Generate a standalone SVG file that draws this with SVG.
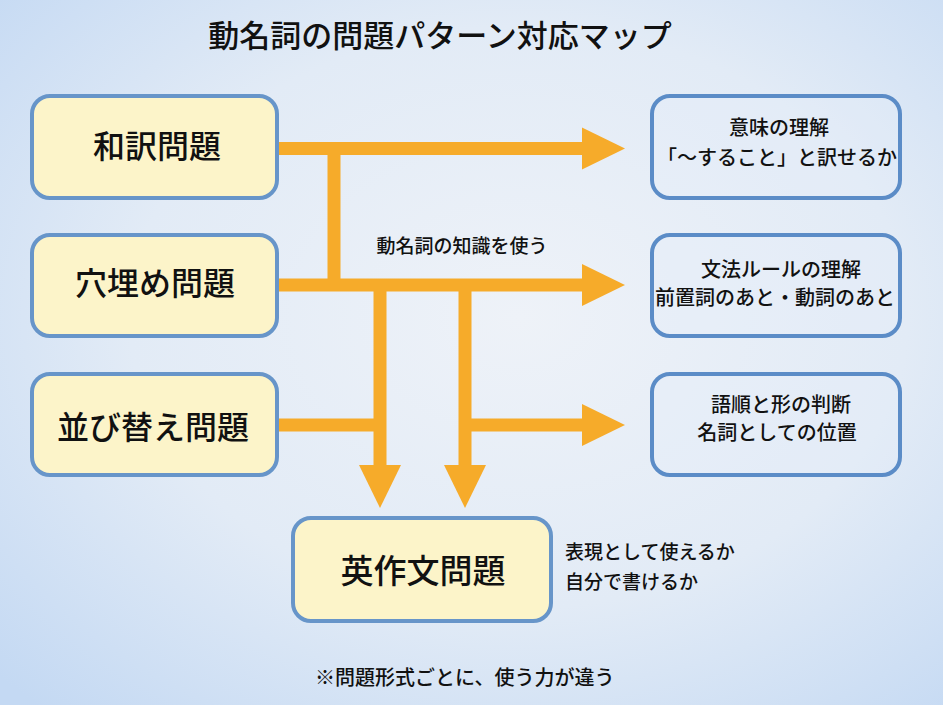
<svg xmlns="http://www.w3.org/2000/svg" width="943" height="705" viewBox="0 0 943 705">
<defs>
<radialGradient id="bg" cx="0.55" cy="0.45" r="0.75">
<stop offset="0" stop-color="#eef2f8"/>
<stop offset="0.55" stop-color="#e2ebf6"/>
<stop offset="1" stop-color="#c4d9f3"/>
</radialGradient>
<path id="headR" d="M0,-21 L43,0 L0,21 Z"/>
</defs>
<style>
.src rect{fill:#fcf4c9;stroke:#6795c9;stroke-width:4}
.dst rect{fill:#e6eef8;fill-opacity:0.35;stroke:#5b8cc7;stroke-width:4}
.big{font-family:"Noto Sans CJK JP","Noto Sans CJK SC",sans-serif;font-size:32px;font-weight:500;fill:#111;text-anchor:middle}
.mid{font-family:"Noto Sans CJK JP","Noto Sans CJK SC",sans-serif;font-size:20px;font-weight:500;fill:#111;text-anchor:middle}
.lab{font-family:"Noto Sans CJK JP","Noto Sans CJK SC",sans-serif;font-size:19px;font-weight:500;fill:#111}
.con line{stroke:#f6ab2a;stroke-width:13;fill:none}
.con use{fill:#f6ab2a}
</style>
<rect x="0" y="0" width="943" height="705" fill="url(#bg)"/>
<text x="440" y="47" class="big" style="font-size:31px">動名詞の問題パターン対応マップ</text>

<g id="connectors" class="con">
<line x1="279" y1="148.5" x2="583" y2="148.5"/>
<use href="#headR" transform="translate(582,148.5)"/>
<line x1="334" y1="148.5" x2="334" y2="285"/>
<line x1="279" y1="285" x2="583" y2="285"/>
<use href="#headR" transform="translate(582,285)"/>
<line x1="380" y1="285" x2="380" y2="466"/>
<use href="#headR" transform="translate(380,465) rotate(90)"/>
<line x1="465" y1="285" x2="465" y2="466"/>
<use href="#headR" transform="translate(465,465) rotate(90)"/>
<line x1="279" y1="425" x2="380" y2="425"/>
<line x1="465" y1="425" x2="583" y2="425"/>
<use href="#headR" transform="translate(582,425)"/>
</g>
<text x="462" y="253" class="lab" text-anchor="middle">動名詞の知識を使う</text>

<g id="wayaku" class="src">
<rect x="32" y="96" width="245" height="102" rx="18"/>
<text x="157" y="158" class="big">和訳問題</text>
</g>
<g id="anaume" class="src">
<rect x="32" y="235" width="245" height="101" rx="18"/>
<text x="155" y="295" class="big">穴埋め問題</text>
</g>
<g id="narabikae" class="src">
<rect x="32" y="374" width="245" height="101" rx="18"/>
<text x="153" y="439" class="big">並び替え問題</text>
</g>
<g id="eisakubun" class="src">
<rect x="293" y="518" width="258" height="103" rx="18"/>
<text x="423" y="583" class="big" style="font-size:33px">英作文問題</text>
</g>
<g id="eisakubun-note">
<text x="565" y="559" class="lab">表現として使えるか</text>
<text x="565" y="589" class="lab">自分で書けるか</text>
</g>

<g id="imi" class="dst">
<rect x="652" y="96" width="248" height="102" rx="18"/>
<text x="779" y="135" class="mid">意味の理解</text>
<text x="777" y="165" class="mid">「～すること」と訳せるか</text>
</g>
<g id="bunpo" class="dst">
<rect x="652" y="235" width="248" height="101" rx="18"/>
<text x="781" y="277" class="mid">文法ルールの理解</text>
<text x="775" y="305" class="mid">前置詞のあと・動詞のあと</text>
</g>
<g id="gojun" class="dst">
<rect x="652" y="374" width="248" height="101" rx="18"/>
<text x="781" y="412" class="mid">語順と形の判断</text>
<text x="777" y="440" class="mid">名詞としての位置</text>
</g>

<text x="315" y="685" class="lab" style="font-size:20px">※問題形式ごとに、使う力が違う</text>
</svg>
